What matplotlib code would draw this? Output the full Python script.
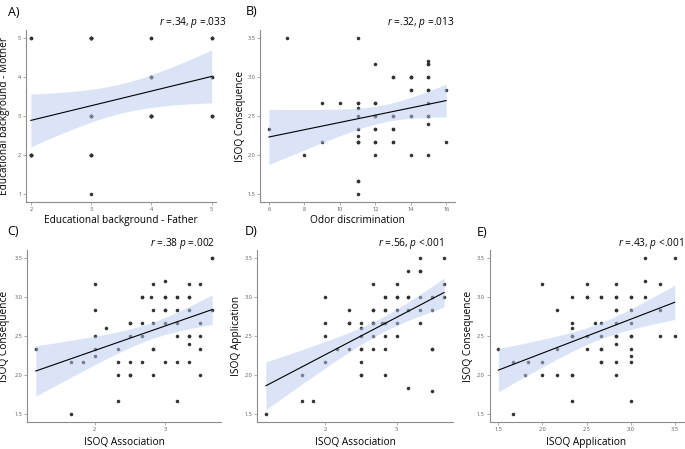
"""Five-panel scatter grid (A-E) with linear fits and 95% CI ribbons."""

import matplotlib.pyplot as plt
import numpy as np

plt.rcParams.update({
    'font.family': ['Open Sans', 'DejaVu Sans'],
    'font.size': 7.3,
    'mathtext.fontset': 'custom',
    'mathtext.rm': 'Open Sans',
    'mathtext.it': 'Open Sans:italic',
})

# ---- Data (repeated pairs = overlapping points) ----
# A) Educational background: father vs mother
edu_father = [2, 2, 2, 2, 2, 2, 2,
              3, 3, 3, 3, 3, 3, 3, 3, 3, 3, 3, 3, 3, 3,
              4, 4, 4, 4, 4, 4, 4, 4, 4, 4, 4,
              5, 5, 5, 5, 5, 5, 5, 5]
edu_mother = [5, 5, 2, 2, 2, 2, 2,
              5, 5, 5, 5, 5, 3, 3, 3, 3, 2, 2, 2, 2, 1,
              5, 5, 4, 4, 4, 3, 3, 3, 3, 3, 3,
              5, 5, 5, 4, 4, 3, 3, 3]

# B) Odor discrimination vs ISOQ Consequence
odor = [6, 7, 8, 9, 9, 10,
        11, 11, 11, 11, 11, 11, 11, 11, 11, 11, 11, 11, 11,
        12, 12, 12, 12, 12, 12, 12, 12, 12, 12,
        13, 13, 13, 13, 13, 13, 13, 13,
        14, 14, 14, 14, 14, 14, 14, 14,
        15, 15, 15, 15, 15, 15, 15, 15, 15, 15, 15, 15,
        16, 16]
odor_cons = [2.333, 3.5, 2.0, 2.667, 2.167, 2.667,
             3.5, 2.667, 2.6, 2.5, 2.333, 2.25, 2.167, 1.667, 1.5,
             2.667, 2.167, 2.167, 1.667,
             3.167, 2.667, 2.5, 2.333, 2.167, 2.0, 2.667, 2.167, 2.333, 2.5,
             3.0, 2.5, 2.333, 2.167, 3.0, 2.333, 2.167, 2.5,
             3.0, 2.833, 2.5, 2.0, 3.0, 2.833, 3.0, 2.5,
             3.2, 3.167, 3.0, 2.833, 2.667, 2.5, 2.4, 2.0, 2.833, 3.0, 2.5, 3.167,
             2.833, 2.167]

# C) ISOQ Association vs ISOQ Consequence
assoc_c = [1.167, 1.667, 1.667, 1.833,
           2.0, 2.0, 2.0, 2.0, 2.0, 2.167,
           2.333, 2.333, 2.333, 2.333,
           2.5, 2.5, 2.5, 2.5, 2.5, 2.5,
           2.667, 2.667, 2.667, 2.667, 2.667, 2.8,
           2.833, 2.833, 2.833, 2.833, 2.833, 2.833,
           3.0, 3.0, 3.0, 3.0, 3.0, 3.0, 3.0,
           3.167, 3.167, 3.167, 3.167, 3.167, 3.167, 3.167,
           3.333, 3.333, 3.333, 3.333, 3.333, 3.333, 3.333, 3.333,
           3.5, 3.5, 3.5, 3.5, 3.5,
           3.667, 3.667, 3.667]
cons_c = [2.333, 2.167, 1.5, 2.167,
          3.167, 2.833, 2.5, 2.333, 2.25, 2.6,
          2.333, 2.167, 2.0, 1.667,
          2.667, 2.5, 2.167, 2.0, 2.0, 2.667,
          3.0, 2.667, 2.5, 2.167, 3.0, 3.0,
          3.167, 2.833, 2.667, 2.333, 2.0, 2.333,
          3.2, 3.0, 2.833, 2.667, 2.167, 3.0, 2.833,
          3.0, 2.833, 2.667, 2.5, 2.167, 1.667, 3.0,
          3.167, 3.0, 2.833, 2.5, 2.4, 2.167, 3.0, 2.5,
          3.167, 2.667, 2.5, 2.333, 2.0,
          3.5, 2.833, 3.5]

# D) ISOQ Association vs ISOQ Application
assoc_d = [1.167, 1.667, 1.667, 1.833,
           2.0, 2.0, 2.0, 2.0, 2.167,
           2.333, 2.333, 2.333, 2.333,
           2.5, 2.5, 2.5, 2.5, 2.5, 2.5, 2.5, 2.5,
           2.667, 2.667, 2.667, 2.667, 2.667, 2.667, 2.667, 2.8,
           2.833, 2.833, 2.833, 2.833, 2.833, 2.833, 2.833, 2.833,
           3.0, 3.0, 3.0, 3.0, 3.0, 3.0,
           3.167, 3.167, 3.167, 3.167, 3.167,
           3.333, 3.333, 3.333, 3.333, 3.333, 3.333,
           3.5, 3.5, 3.5, 3.5, 3.5,
           3.667, 3.667, 3.667]
appl_d = [1.5, 2.0, 1.667, 1.667,
          3.0, 2.667, 2.5, 2.167, 2.333,
          2.833, 2.667, 2.333, 2.667,
          2.667, 2.6, 2.5, 2.333, 2.167, 2.0, 2.0, 2.333,
          3.167, 2.833, 2.667, 2.5, 2.333, 2.833, 2.667, 2.667,
          3.0, 2.833, 2.667, 2.5, 2.333, 2.0, 3.0, 2.833,
          3.167, 3.0, 2.833, 2.667, 2.5, 3.0,
          3.333, 3.0, 2.833, 1.833, 3.0,
          3.5, 3.333, 3.0, 2.833, 2.667, 3.333,
          3.0, 2.833, 2.333, 1.8, 2.333,
          3.5, 3.167, 3.0]

# E) ISOQ Application vs ISOQ Consequence
appl_e = [1.5, 1.667, 1.667, 1.8, 1.833,
          2.0, 2.0, 2.0, 2.167, 2.167, 2.167,
          2.333, 2.333, 2.333, 2.333, 2.333, 2.333, 2.333, 2.333,
          2.5, 2.5, 2.5, 2.5, 2.5, 2.6,
          2.667, 2.667, 2.667, 2.667, 2.667, 2.667, 2.667, 2.667,
          2.833, 2.833, 2.833, 2.833, 2.833, 2.833, 2.833, 2.833, 2.833, 2.833, 2.833,
          3.0, 3.0, 3.0, 3.0, 3.0, 3.0, 3.0, 3.0, 3.0, 3.0,
          3.167, 3.167, 3.167, 3.333, 3.333, 3.333, 3.5, 3.5]
cons_e = [2.333, 2.167, 1.5, 2.0, 2.167,
          3.167, 2.167, 2.0, 2.833, 2.333, 2.0,
          3.0, 2.667, 2.6, 2.5, 2.0, 1.667, 2.0, 2.5,
          3.167, 3.0, 2.5, 2.333, 3.0, 2.667,
          3.0, 2.667, 2.5, 2.333, 2.167, 3.0, 2.333, 2.167,
          3.167, 3.0, 2.833, 2.667, 2.5, 2.4, 2.167, 2.0, 2.5, 3.0, 2.833,
          3.0, 2.833, 2.667, 2.5, 2.333, 2.25, 2.167, 1.667, 2.5, 3.0,
          3.5, 3.2, 3.0, 3.167, 2.833, 2.5, 3.5, 2.5]

stats = ['$r$ =.34, $p$ =.033', '$r$ =.32, $p$ =.013', '$r$ =.38 $p$ =.002',
         '$r$ =.56, $p$ <.001', '$r$ =.43, $p$ <.001']
letters = ['A)', 'B)', 'C)', 'D)', 'E)']

# ---- Layout in reference pixels: (left, right, top, bottom) ----
W, H = 685, 449
boxes = [(26, 216.5, 30, 202), (260, 455, 30, 202),
         (27, 221, 250, 422), (257, 453, 250, 422), (489.5, 683.5, 250, 422)]
ylab_right = [10, 246, 10, 242, 474]      # right edge of rotated y title
xlab_top = [215, 215, 437, 437, 437]      # top of x title
letter_pos = [(8, 6), (246, 5), (7, 225), (245, 225), (477, 226)]
stat_pos = [(227, 23), (455, 23), (215, 243), (444, 243), (684, 243)]

PT_COLOR = '#333333'
RIBBON = '#b7cbef'
AXIS_GREY = '#8c8c8c'


def fit_band(x, y):
    x = np.asarray(x, float)
    y = np.asarray(y, float)
    n = len(x)
    b1, b0 = np.polyfit(x, y, 1)
    resid = y - (b0 + b1 * x)
    s = np.sqrt(np.sum(resid ** 2) / (n - 2))
    sxx = np.sum((x - x.mean()) ** 2)
    xs = np.linspace(x.min(), x.max(), 100)
    yh = b0 + b1 * xs
    t = 1.96 + 2.4 / (n - 2)  # ~t(0.975, n-2)
    half = t * s * np.sqrt(1 / n + (xs - x.mean()) ** 2 / sxx)
    return xs, yh, yh - half, yh + half


def panel(i, x, y, xlim, ylim, xticks, yticks, xlabel, ylabel, ytick_fmt):
    l, r, t, b = boxes[i]
    ax = fig.add_axes([l / W, 1 - b / H, (r - l) / W, (b - t) / H])
    ax.scatter(x, y, s=6.5, color=PT_COLOR, linewidths=0, zorder=2)
    xs, yh, lo, hi = fit_band(x, y)
    ax.fill_between(xs, lo, hi, color=RIBBON, alpha=0.5, linewidth=0, zorder=3)
    ax.plot(xs, yh, color='black', linewidth=0.8, zorder=4)

    ax.set_xlim(*xlim)
    ax.set_ylim(*ylim)
    ax.set_xticks(xticks)
    ax.set_yticks(yticks)
    ax.set_yticklabels([ytick_fmt.format(v) for v in yticks])
    ax.tick_params(labelsize=4.0, labelcolor='#555555', color=AXIS_GREY,
                   length=2, width=0.5, pad=1.5)
    for side in ('top', 'right'):
        ax.spines[side].set_visible(False)
    for side in ('left', 'bottom'):
        ax.spines[side].set_color(AXIS_GREY)
        ax.spines[side].set_linewidth(0.8)

    ax.set_xlabel(xlabel)
    ax.set_ylabel(ylabel)
    ax.xaxis.set_label_coords(0.5, -(xlab_top[i] - b) / (b - t))
    ax.yaxis.set_label_coords((ylab_right[i] - l) / (r - l), 0.5)

    lx, ly = letter_pos[i]
    fig.text(lx / W, 1 - ly / H, letters[i], fontsize=9, ha='left', va='top')
    sx, sy = stat_pos[i]
    fig.text(sx / W, 1 - sy / H, stats[i], fontsize=7.3, ha='right', va='center')
    return ax


fig = plt.figure(figsize=(6.85, 4.49), dpi=100)
fig.patch.set_facecolor('white')

isoq_ticks = [1.5, 2.0, 2.5, 3.0, 3.5]

panel(0, edu_father, edu_mother, (1.92, 5.08), (0.8, 5.2), [2, 3, 4, 5],
      [1, 2, 3, 4, 5], 'Educational background - Father',
      'Educational background - Mother', '{:.0f}')
panel(1, odor, odor_cons, (5.5, 16.5), (1.4, 3.6), [6, 8, 10, 12, 14, 16],
      isoq_ticks, 'Odor discrimination', 'ISOQ Consequence', '{:.1f}')
panel(2, assoc_c, cons_c, (1.042, 3.792), (1.4, 3.6), [2, 3],
      isoq_ticks, 'ISOQ Association', 'ISOQ Consequence', '{:.1f}')
panel(3, assoc_d, appl_d, (1.042, 3.792), (1.4, 3.6), [2, 3],
      isoq_ticks, 'ISOQ Association', 'ISOQ Application', '{:.1f}')
ax_e = panel(4, appl_e, cons_e, (1.4, 3.6), (1.4, 3.6), isoq_ticks,
             isoq_ticks, 'ISOQ Application', 'ISOQ Consequence', '{:.1f}')
ax_e.set_xticklabels(['1.5', '2.0', '2.5', '3.0', '3.5'])

fig.savefig('out.png', dpi=100, facecolor='white')
